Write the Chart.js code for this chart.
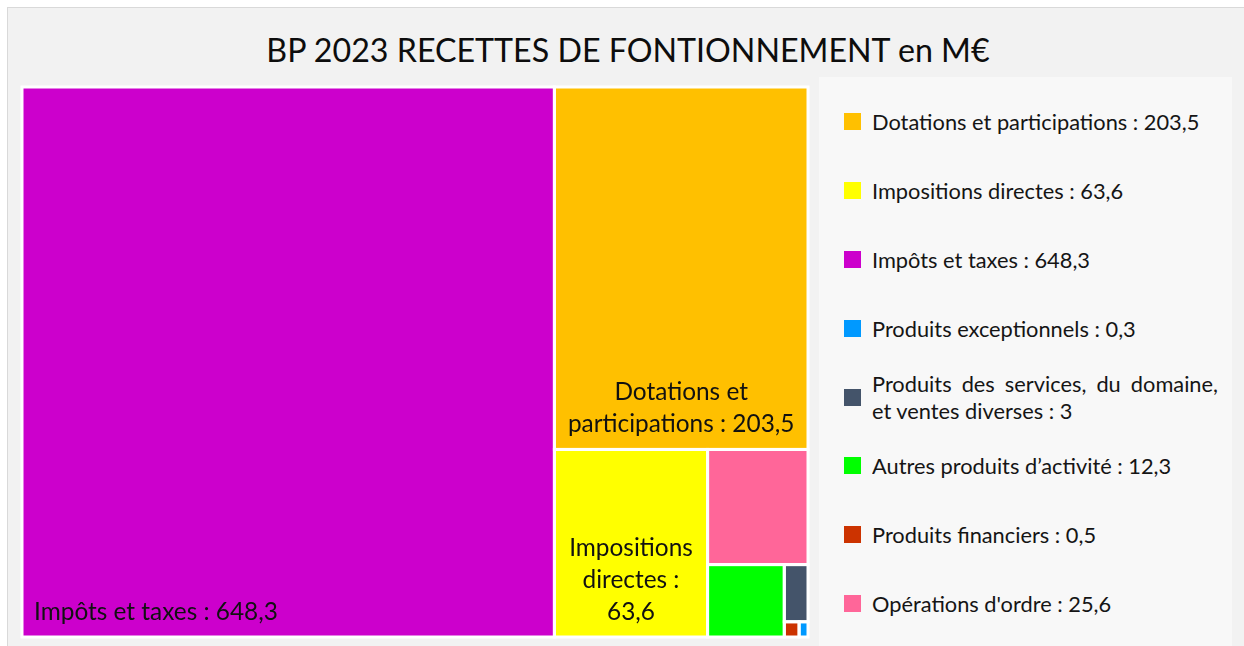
<!DOCTYPE html>
<html lang="fr"><head><meta charset="utf-8">
<title>BP 2023 RECETTES DE FONTIONNEMENT en M€</title>
<script src="https://cdn.jsdelivr.net/npm/chart.js@4.4.0/dist/chart.umd.min.js"></script>
<style>
html,body{margin:0;padding:0;width:1244px;height:646px;overflow:hidden;background:#fff;font-family:Lato,"Open Sans",sans-serif;}
#frame{position:absolute;left:7px;top:7px;width:1250px;height:650px;background:#f2f2f2;border:1px solid #d9d9d9;box-sizing:border-box;}
#title{position:absolute;left:0;top:28px;width:1256px;text-align:center;font-size:32.2px;line-height:44px;color:#0d0d0d;white-space:nowrap;}
#legendBox{position:absolute;left:819px;top:77px;width:413px;height:580px;background:#f8f8f8;}
#legend{position:absolute;left:844px;top:87.6px;width:385px;}
.item{height:68.8px;display:flex;align-items:center;}
.sw{width:17px;height:17px;flex:none;margin-right:11px;}
.lbl{width:346px;font-size:21.8px;line-height:27px;color:#151515;text-align:justify;overflow:hidden;}
#chartBox{position:absolute;left:20px;top:85px;width:790px;height:554px;}
</style></head>
<body>
<div id="frame"></div>
<div id="title"></div>
<div id="legendBox"></div>
<div id="legend"></div>
<div id="chartBox"><canvas id="c"></canvas></div>
<script>
const chartTitle = "BP 2023 RECETTES DE FONTIONNEMENT en M€";
const categories = [
  "Dotations et participations",
  "Impositions directes",
  "Impôts et taxes",
  "Produits exceptionnels",
  "Produits des services, du domaine, et ventes diverses",
  "Autres produits d’activité",
  "Produits financiers",
  "Opérations d'ordre"
];
const values = [203.5, 63.6, 648.3, 0.3, 3, 12.3, 0.5, 25.6];
const colors = ["#ffc000", "#ffff00", "#cc00cc", "#0099ff", "#44546a", "#00ff00", "#cc3300", "#ff6699"];

const fmt = v => String(v).replace('.', ',');
const labelOf = i => categories[i] + " : " + fmt(values[i]);

document.getElementById('title').textContent = chartTitle;
const legendEl = document.getElementById('legend');
categories.forEach((c, i) => {
  const it = document.createElement('div'); it.className = 'item';
  const sw = document.createElement('div'); sw.className = 'sw'; sw.style.background = colors[i];
  const lb = document.createElement('div'); lb.className = 'lbl'; lb.textContent = labelOf(i);
  it.appendChild(sw); it.appendChild(lb); legendEl.appendChild(it);
});

// slice layout: largest first, each item takes a strip along the shorter side of the remaining area
function sliceLayout(vals, pw, ph) {
  const order = vals.map((v, i) => i).sort((a, b) => vals[b] - vals[a]);
  let x = 0, y = 0, w = 1, h = 1;
  let rem = vals.reduce((s, v) => s + v, 0);
  const out = [];
  order.forEach(i => {
    const f = vals[i] / rem;
    if (w * pw >= h * ph) { const cw = w * f; out[i] = {x, y, w: cw, h}; x += cw; w -= cw; }
    else { const ch = h * f; out[i] = {x, y, w, h: ch}; y += ch; h -= ch; }
    rem -= vals[i];
  });
  return out;
}

function wrap(ctx, text, maxW) {
  const words = text.split(' ');
  const lines = []; let cur = '';
  for (const wd of words) {
    if (ctx.measureText(wd).width > maxW) return null;
    const t = cur ? cur + ' ' + wd : wd;
    if (ctx.measureText(t).width <= maxW) cur = t; else { lines.push(cur); cur = wd; }
  }
  if (cur) lines.push(cur);
  return lines;
}

const treemapPlugin = {
  id: 'treemap',
  afterDatasetsDraw(chart) {
    const {ctx, chartArea: ca, scales: {x, y}} = chart;
    const rects = sliceLayout(values, ca.width, ca.height);
    ctx.save();
    const px = rects.map(r => ({
      x0: x.getPixelForValue(r.x), x1: x.getPixelForValue(r.x + r.w),
      y0: y.getPixelForValue(r.y), y1: y.getPixelForValue(r.y + r.h)
    }));
    px.forEach((p, i) => {
      ctx.fillStyle = colors[i];
      ctx.fillRect(p.x0, p.y0, p.x1 - p.x0, p.y1 - p.y0);
    });
    ctx.lineWidth = 3; ctx.strokeStyle = '#ffffff';
    px.forEach(p => ctx.strokeRect(p.x0, p.y0, p.x1 - p.x0, p.y1 - p.y0));
    const fs = 24.4, lh = 32, pad = 10;
    ctx.font = fs + 'px Lato, "Open Sans", sans-serif';
    ctx.fillStyle = '#111111';
    ctx.textBaseline = 'middle';
    px.forEach((p, i) => {
      const w = p.x1 - p.x0, h = p.y1 - p.y0;
      const lines = wrap(ctx, labelOf(i), w - 2 * pad);
      if (!lines || lines.length * lh + 20 > h) return;
      const single = lines.length === 1;
      ctx.textAlign = single ? 'left' : 'center';
      const tx = single ? p.x0 + 12 : (p.x0 + p.x1) / 2;
      lines.forEach((ln, k) => {
        ctx.fillText(ln, tx, p.y1 - 25 - (lines.length - 1 - k) * lh);
      });
    });
    ctx.restore();
  }
};

new Chart(document.getElementById('c'), {
  type: 'scatter',
  data: { datasets: [{ label: chartTitle, data: [] }] },
  options: {
    responsive: true, maintainAspectRatio: false, animation: false,
    layout: { padding: 2 },
    scales: {
      x: { type: 'linear', min: 0, max: 1, display: false },
      y: { type: 'linear', min: 0, max: 1, reverse: true, display: false }
    },
    plugins: { legend: { display: false }, tooltip: { enabled: false }, title: { display: false } }
  },
  plugins: [treemapPlugin]
});
</script>
</body></html>
